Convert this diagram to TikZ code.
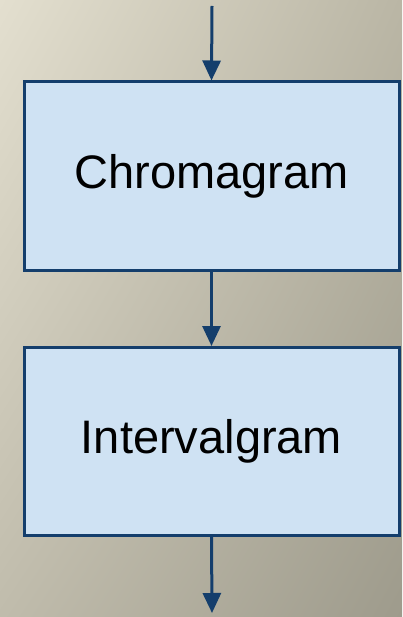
\documentclass[tikz,border=0pt]{standalone}
\usepackage{fontspec}
\setmainfont{Liberation Sans}
\usetikzlibrary{arrows.meta,shadings}
\definecolor{bgtl}{RGB}{227,223,207}
\definecolor{bgtr}{RGB}{186,182,165}
\definecolor{bgbl}{RGB}{192,188,172}
\definecolor{bgbr}{RGB}{158,155,140}
\definecolor{boxfill}{RGB}{207,226,243}
\definecolor{boxline}{RGB}{20,62,108}
\tikzset{
  stage/.style={draw=boxline, fill=boxfill, line width=3pt,
    minimum width=375pt, minimum height=188pt, inner sep=0pt,
    font=\fontsize{47}{52}\selectfont},
  flow/.style={draw=boxline, line width=3pt,
    -{Triangle[width=18pt,length=20pt]}}
}
\begin{document}
\begin{tikzpicture}[x=1pt,y=-1pt]
  \useasboundingbox (0,0) rectangle (402,617);
  \shade[upper left=bgtl, upper right=bgtr, lower left=bgbl, lower right=bgbr]
    (0,0) rectangle (402,617);
  \coordinate (in) at (212,6);
  \coordinate (out) at (212,613);
  \node[stage] (chroma) at (211.5,176) {Chromagram};
  \node[stage] (interval) at (211.5,441.5) {Intervalgram};
  \draw[flow] (in) -- (chroma.north);
  \draw[flow] (chroma.south) -- (interval.north);
  \draw[flow] (interval.south) -- (out);
\end{tikzpicture}
\end{document}
